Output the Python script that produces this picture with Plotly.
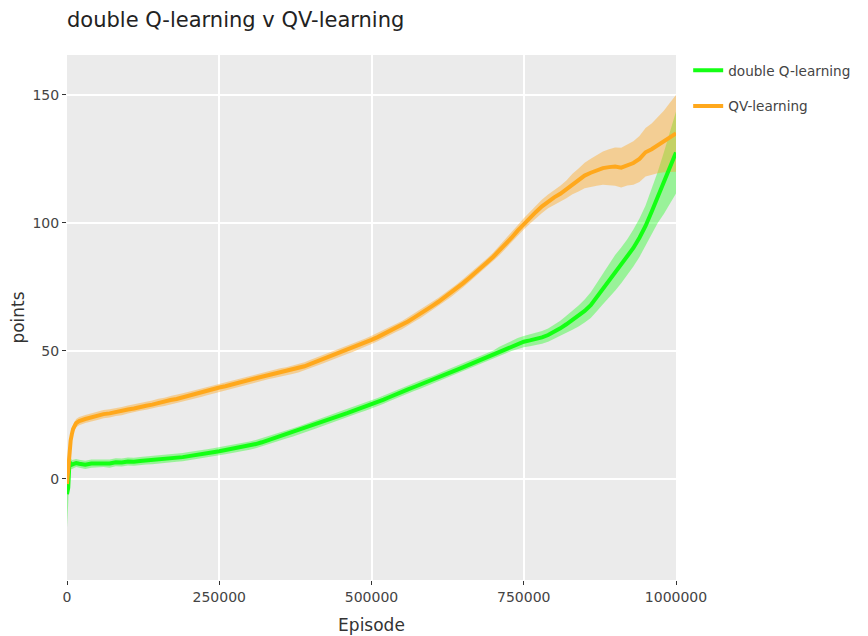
import plotly.graph_objects as go

# Episodes (x values)
episodes = [0, 2000, 4000, 6000, 8000, 10000, 15000, 20000] + list(range(30000, 1000001, 10000))

# QV-learning mean points
qv_mean = [-2, 5, 11, 15, 17.5, 19.5, 21.8, 22.6,
           23.4, 24.1, 24.6, 25.3, 25.6, 26.2, 26.5, 27.1, 27.5, 28.2,
           28.6, 29.0, 29.7, 30.1, 30.8, 31.2, 31.9, 32.4, 33.0, 33.6,
           34.3, 35.0, 35.7, 36.2, 36.9, 37.4, 38.1, 38.7, 39.3, 39.9,
           40.5, 41.0, 41.6, 42.0, 42.6, 43.2, 44.0, 44.9, 45.8, 46.7,
           47.7, 48.5, 49.4, 50.4, 51.3, 52.3, 53.2, 54.3, 55.4, 56.6,
           57.7, 59.0, 60.1, 61.5, 63.0, 64.4, 66.0, 67.6, 69.2, 70.9,
           72.6, 74.4, 76.4, 78.4, 80.3, 82.4, 84.6, 86.8, 89.2, 91.6,
           94.2, 97.0, 99.6, 102.0, 104.3, 106.5, 108.4, 110.0, 111.4, 113.1,
           115.2, 116.8, 118.5, 119.6, 120.5, 121.4, 121.8, 122.0, 121.6, 122.6,
           123.4, 125.0, 127.6, 128.8, 130.4, 131.8, 133.4, 135.0]

# QV-learning band half-width
qv_err = [4, 3, 2.5, 2, 1.8, 1.7, 1.6, 1.6] + [1.6] * 68 + \
         [1.8, 1.9, 2.0, 2.1, 2.2, 2.3, 2.4, 2.6, 2.7, 2.8,
          3.1, 3.5, 4.0, 4.5, 5.0, 5.5, 6.0, 6.5, 7.0, 7.5,
          7.8, 8.0, 8.5, 9.0, 9.5, 10.0, 11.0, 12.0, 13.5, 15.0]

# double Q-learning mean points
dq_mean = [-6, -3.5, 6.5, 6.0, 5.6, 5.8, 6.2, 5.9,
           5.5, 6.0, 6.0, 6.2, 6.0, 6.5, 6.4, 6.8, 6.7, 7.0,
           7.2, 7.3, 7.5, 7.7, 8.0, 8.3, 8.5, 8.9, 9.2, 9.6,
           10.0, 10.4, 10.8, 11.2, 11.6, 12.1, 12.5, 13.0, 13.6, 14.3,
           15.1, 15.9, 16.6, 17.4, 18.1, 18.9, 19.8, 20.5, 21.4, 22.3,
           23.3, 24.0, 24.9, 25.7, 26.6, 27.4, 28.2, 29.0, 30.0, 31.0,
           32.0, 33.1, 34.0, 35.0, 35.9, 36.8, 37.8, 38.6, 39.5, 40.6,
           41.6, 42.6, 43.6, 44.6, 45.6, 46.6, 47.6, 48.6, 49.8, 50.9,
           52.0, 52.9, 53.6, 54.1, 54.6, 55.3, 56.2, 57.4, 58.8, 60.4,
           62.0, 63.6, 65.6, 67.9, 71.0, 74.2, 77.5, 80.5, 83.4, 86.6,
           90.2, 94.2, 98.8, 104.4, 110.0, 115.5, 121.2, 127.5]

# double Q-learning band half-width
dq_err = [13, 6, 2.5, 2, 1.8, 1.7, 1.6, 1.6] + [1.6] * 68 + \
         [1.8, 1.9, 2.0, 2.1, 2.2, 2.3, 2.4, 2.5, 2.6, 2.8,
          3.0, 3.3, 3.7, 4.1, 4.5, 5.0, 5.5, 6.0, 6.5, 7.0,
          7.0, 7.0, 7.2, 7.5, 8.0, 9.0, 10.0, 12.0, 14.0, 16.0]

GREEN = "rgb(20,255,20)"
GREEN_FILL = "rgba(20,255,20,0.38)"
ORANGE = "rgb(255,168,28)"
ORANGE_FILL = "rgba(255,168,28,0.42)"

fig = go.Figure()


def band(x, m, e, fillcolor):
    upper = [a + b for a, b in zip(m, e)]
    lower = [a - b for a, b in zip(m, e)]
    return go.Scatter(x=x + x[::-1], y=upper + lower[::-1], fill="toself",
                      fillcolor=fillcolor, line=dict(width=0), mode="lines",
                      hoverinfo="skip", showlegend=False)


fig.add_trace(band(episodes, dq_mean, dq_err, GREEN_FILL))
fig.add_trace(band(episodes, qv_mean, qv_err, ORANGE_FILL))
fig.add_trace(go.Scatter(x=episodes, y=dq_mean, mode="lines", name="double Q-learning",
                         line=dict(color=GREEN, width=4), legendgroup="dq"))
fig.add_trace(go.Scatter(x=episodes, y=qv_mean, mode="lines", name="QV-learning",
                         line=dict(color=ORANGE, width=4), legendgroup="qv"))

FONT = "DejaVu Sans"
W, H = 860, 628
fig.update_layout(
    width=W, height=H,
    margin=dict(l=59, r=189, t=47, b=56),
    paper_bgcolor="white", plot_bgcolor="#EBEBEB",
    font=dict(family=FONT, size=14, color="#444"),
    title=dict(text="double Q-learning v QV-learning", x=59 / W, xanchor="left",
               y=1 - 12 / H, yanchor="middle", yref="container",
               font=dict(family=FONT, size=21, color="#222")),
    legend=dict(x=1.02, y=1, xanchor="left", yanchor="top", tracegroupgap=15,
                font=dict(family=FONT, size=13.6, color="#444")),
    showlegend=True,
)
fig.update_xaxes(range=[0, 1000000], dtick=250000, tickformat="d", showgrid=True,
                 gridcolor="white", gridwidth=1.5, zeroline=False, ticks="outside",
                 ticklen=4, tickcolor="#333", automargin=False,
                 title=dict(text="Episode", font=dict(size=17, color="#333")),
                 showline=False)
fig.update_yaxes(range=[-39.5, 165.6], dtick=50, showgrid=True, gridcolor="white",
                 gridwidth=1.5, zeroline=False, ticks="outside", ticklen=4, tickcolor="#333",
                 automargin=False,
                 title=dict(text="points", font=dict(size=17, color="#333")), showline=False)

fig.write_html("out.html")
